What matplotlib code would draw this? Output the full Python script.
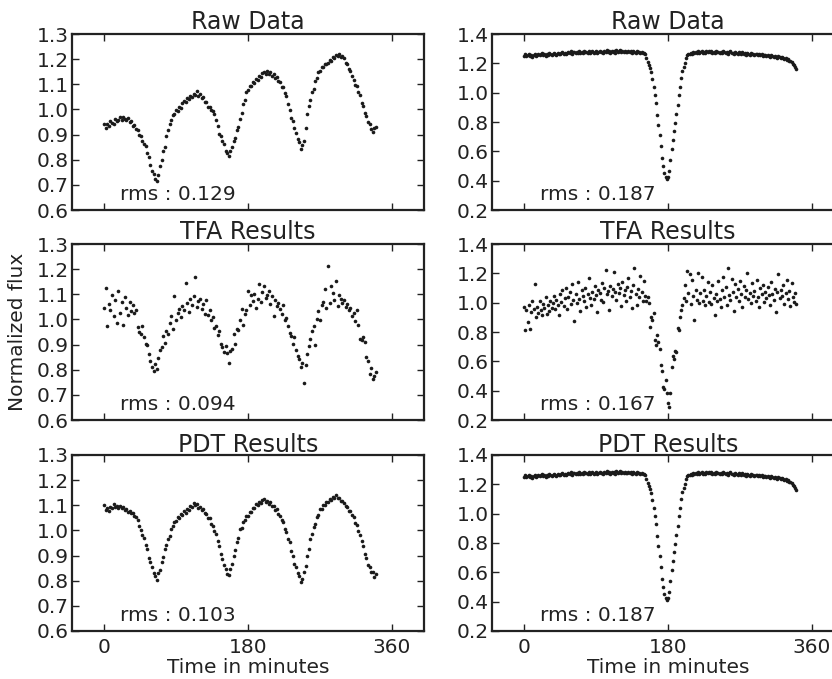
import numpy as np
import matplotlib
matplotlib.use("Agg")
from matplotlib import pyplot as plt
from matplotlib.ticker import FormatStrFormatter

# sample times in minutes
t_left = np.arange(0, 341, 2)
t_right = np.arange(0, 341, 1.5)

raw_left = [
    0.941, 0.928, 0.944, 0.935, 0.953, 0.946, 0.943, 0.961, 0.952, 0.958,
    0.968, 0.957, 0.970, 0.961, 0.958, 0.966, 0.949, 0.954, 0.936, 0.940,
    0.921, 0.918, 0.899, 0.894, 0.874, 0.862, 0.853, 0.826, 0.809, 0.779,
    0.757, 0.744, 0.722, 0.716, 0.741, 0.774, 0.797, 0.833, 0.851, 0.893,
    0.918, 0.944, 0.957, 0.979, 0.982, 0.996, 0.992, 1.008, 1.006, 1.024,
    1.034, 1.031, 1.046, 1.042, 1.055, 1.049, 1.063, 1.058, 1.072, 1.054,
    1.061, 1.045, 1.051, 1.030, 1.029, 1.010, 1.009, 0.996, 0.993, 0.981,
    0.957, 0.934, 0.902, 0.893, 0.874, 0.863, 0.836, 0.828, 0.814, 0.833,
    0.852, 0.874, 0.886, 0.918, 0.931, 0.963, 0.987, 1.023, 1.036, 1.068,
    1.076, 1.095, 1.092, 1.110, 1.104, 1.122, 1.116, 1.131, 1.129, 1.146,
    1.150, 1.139, 1.152, 1.141, 1.147, 1.134, 1.139, 1.124, 1.129, 1.112,
    1.109, 1.091, 1.089, 1.066, 1.054, 1.021, 0.998, 0.966, 0.953, 0.927,
    0.908, 0.881, 0.869, 0.844, 0.858, 0.875, 0.927, 0.982, 1.013, 1.037,
    1.068, 1.081, 1.113, 1.126, 1.149, 1.151, 1.169, 1.168, 1.182, 1.179,
    1.185, 1.197, 1.193, 1.207, 1.204, 1.216, 1.211, 1.219, 1.208, 1.212,
    1.204, 1.186, 1.181, 1.161, 1.154, 1.131, 1.118, 1.096, 1.094, 1.071,
    1.059, 1.026, 1.013, 0.986, 0.973, 0.951, 0.943, 0.921, 0.909, 0.926,
    0.932,
]

tfa_left = [
    1.046, 1.125, 0.972, 1.061, 1.038, 1.098, 1.012, 1.079, 0.985, 1.112,
    1.027, 1.069, 0.978, 1.088, 1.044, 1.019, 1.071, 1.032, 1.058, 1.025,
    1.037, 0.968, 0.951, 0.942, 0.975, 0.932, 0.903, 0.897, 0.862, 0.835,
    0.812, 0.793, 0.824, 0.803, 0.847, 0.878, 0.892, 0.934, 0.907, 0.955,
    0.944, 0.987, 1.013, 0.962, 1.093, 0.998, 1.026, 1.041, 1.008, 1.052,
    1.037, 1.145, 1.066, 1.028, 1.081, 1.058, 1.094, 1.167, 1.049, 1.072,
    1.083, 1.041, 1.062, 1.023, 1.076, 1.018, 1.036, 0.998, 1.011, 0.965,
    0.972, 0.938, 0.954, 0.904, 0.889, 0.871, 0.893, 0.866, 0.825, 0.874,
    0.884, 0.941, 0.902, 0.963, 0.958, 0.997, 1.043, 0.976, 1.021, 1.039,
    1.112, 1.058, 1.097, 1.074, 1.103, 1.045, 1.083, 1.141, 1.069, 1.108,
    1.132, 1.087, 1.099, 1.113, 1.062, 1.093, 1.014, 1.078, 1.052, 1.064,
    1.041, 1.023, 1.057, 0.998, 1.006, 0.972, 0.948, 0.934, 0.902, 0.931,
    0.878, 0.853, 0.841, 0.812, 0.827, 0.748, 0.818, 0.864, 0.893, 0.921,
    0.953, 0.974, 0.897, 1.002, 1.033, 0.996, 1.058, 1.071, 1.121, 1.047,
    1.214, 1.066, 1.133, 1.104, 1.078, 1.152, 1.053, 1.097, 1.082, 1.066,
    1.076, 1.049, 1.061, 1.037, 1.044, 1.013, 1.026, 0.992, 1.039, 0.978,
    0.924, 0.917, 0.929, 0.912, 0.852, 0.836, 0.784, 0.808, 0.762, 0.776,
    0.791,
]

pdt_left = [
    1.101, 1.082, 1.088, 1.076, 1.094, 1.089, 1.104, 1.093, 1.099, 1.091,
    1.098, 1.088, 1.094, 1.081, 1.086, 1.072, 1.079, 1.068, 1.071, 1.058,
    1.052, 1.043, 1.016, 1.003, 0.981, 0.968, 0.941, 0.925, 0.891, 0.873,
    0.853, 0.831, 0.818, 0.804, 0.829, 0.842, 0.873, 0.896, 0.928, 0.941,
    0.965, 0.977, 1.004, 1.016, 1.034, 1.037, 1.053, 1.049, 1.064, 1.063,
    1.076, 1.071, 1.085, 1.083, 1.099, 1.094, 1.109, 1.101, 1.106, 1.090,
    1.093, 1.081, 1.084, 1.068, 1.066, 1.051, 1.049, 1.026, 1.018, 0.996,
    0.984, 0.958, 0.938, 0.906, 0.888, 0.861, 0.848, 0.826, 0.822, 0.846,
    0.867, 0.898, 0.921, 0.954, 0.971, 1.004, 1.011, 1.034, 1.041, 1.058,
    1.059, 1.074, 1.073, 1.089, 1.091, 1.104, 1.101, 1.114, 1.108, 1.121,
    1.124, 1.113, 1.119, 1.107, 1.112, 1.098, 1.099, 1.083, 1.084, 1.066,
    1.059, 1.041, 1.034, 1.006, 0.993, 0.966, 0.953, 0.918, 0.899, 0.868,
    0.853, 0.829, 0.819, 0.794, 0.806, 0.834, 0.858, 0.899, 0.926, 0.966,
    0.987, 1.014, 1.026, 1.052, 1.061, 1.084, 1.086, 1.102, 1.101, 1.114,
    1.112, 1.124, 1.121, 1.134, 1.129, 1.139, 1.127, 1.129, 1.116, 1.117,
    1.111, 1.096, 1.095, 1.079, 1.077, 1.061, 1.054, 1.031, 1.023, 0.996,
    0.983, 0.956, 0.938, 0.906, 0.889, 0.861, 0.853, 0.836, 0.834, 0.815,
    0.828,
]

raw_right = [
    1.252, 1.261, 1.248, 1.257, 1.263, 1.250, 1.256, 1.246, 1.259, 1.262, 1.253, 1.258,
    1.264, 1.255, 1.261, 1.268, 1.257, 1.263, 1.252, 1.266, 1.259, 1.270, 1.261, 1.256,
    1.262, 1.271, 1.264, 1.258, 1.273, 1.267, 1.262, 1.269, 1.276, 1.263, 1.270, 1.265,
    1.268, 1.277, 1.270, 1.281, 1.266, 1.274, 1.279, 1.268, 1.276, 1.272, 1.283, 1.269,
    1.278, 1.270, 1.282, 1.274, 1.279, 1.268, 1.285, 1.273, 1.277, 1.281, 1.271, 1.279,
    1.283, 1.272, 1.278, 1.286, 1.274, 1.280, 1.270, 1.284, 1.277, 1.289, 1.275, 1.281,
    1.273, 1.286, 1.279, 1.283, 1.271, 1.288, 1.277, 1.282, 1.290, 1.276, 1.284, 1.279,
    1.285, 1.274, 1.280, 1.287, 1.276, 1.282, 1.270, 1.283, 1.278, 1.272, 1.281, 1.275,
    1.279, 1.271, 1.276, 1.268, 1.272, 1.262, 1.235, 1.212, 1.188, 1.166, 1.138, 1.092,
    1.041, 0.986, 0.928, 0.851, 0.782, 0.714, 0.633, 0.552, 0.497, 0.451, 0.424, 0.408,
    0.428, 0.466, 0.538, 0.617, 0.676, 0.741, 0.796, 0.853, 0.914, 0.981, 1.036, 1.098,
    1.146, 1.177, 1.201, 1.236, 1.254, 1.266, 1.262, 1.271, 1.265, 1.274, 1.268, 1.277,
    1.272, 1.281, 1.268, 1.276, 1.284, 1.273, 1.279, 1.270, 1.286, 1.275, 1.281, 1.277,
    1.283, 1.272, 1.278, 1.269, 1.285, 1.276, 1.280, 1.271, 1.277, 1.268, 1.282, 1.274,
    1.270, 1.279, 1.266, 1.275, 1.281, 1.268, 1.273, 1.264, 1.277, 1.270, 1.262, 1.274,
    1.268, 1.261, 1.275, 1.266, 1.270, 1.259, 1.272, 1.264, 1.257, 1.269, 1.263, 1.266,
    1.258, 1.267, 1.261, 1.254, 1.264, 1.257, 1.262, 1.251, 1.259, 1.255, 1.248, 1.258,
    1.252, 1.246, 1.255, 1.249, 1.243, 1.252, 1.245, 1.239, 1.248, 1.241, 1.236, 1.244,
    1.237, 1.229, 1.234, 1.223, 1.228, 1.215, 1.219, 1.206, 1.198, 1.189, 1.176, 1.162,
]

tfa_right = [
    0.972, 0.812, 0.951, 0.867, 0.984, 0.823, 0.936, 1.012, 0.955, 1.124, 0.904, 0.968,
    0.931, 1.013, 0.947, 0.918, 0.992, 0.961, 1.036, 0.925, 0.982, 0.944, 1.008, 0.963,
    0.997, 1.046, 0.956, 1.021, 0.983, 0.915, 1.062, 1.004, 1.087, 0.976, 1.033, 1.098,
    0.958, 1.041, 1.072, 0.989, 1.124, 1.016, 0.872, 1.058, 0.997, 1.139, 1.027, 0.944,
    1.083, 1.046, 1.012, 1.103, 0.968, 1.059, 1.171, 1.034, 0.986, 1.075, 1.024, 1.116,
    1.052, 0.937, 1.089, 1.067, 1.021, 1.133, 1.004, 1.097, 1.226, 1.058, 1.082, 0.953,
    1.114, 1.043, 1.091, 1.206, 1.072, 1.018, 1.127, 1.065, 1.098, 0.974, 1.142, 1.053,
    1.088, 1.012, 1.106, 1.169, 1.041, 1.077, 0.963, 1.123, 1.234, 1.058, 0.982, 1.094,
    1.037, 1.183, 1.072, 1.011, 1.148, 1.046, 1.012, 1.038, 0.996, 0.836, 0.905, 0.882,
    0.927, 0.744, 0.713, 0.781, 0.731, 0.684, 0.576, 0.531, 0.428, 0.412, 0.473, 0.383,
    0.316, 0.292, 0.387, 0.562, 0.637, 0.618, 0.672, 0.663, 0.824, 0.815, 0.904, 0.952,
    0.983, 1.031, 1.118, 1.009, 1.213, 1.067, 1.195, 0.994, 1.152, 1.043, 0.879, 1.086,
    1.021, 1.204, 0.997, 1.063, 1.178, 1.012, 1.089, 0.987, 1.046, 1.139, 1.003, 1.071,
    0.994, 1.118, 1.035, 0.918, 1.062, 1.009, 1.147, 1.027, 0.972, 1.083, 1.176, 1.041,
    1.104, 0.986, 1.238, 1.052, 1.017, 1.163, 1.074, 0.942, 1.129, 1.038, 1.096, 1.008,
    1.145, 1.061, 0.973, 1.112, 1.036, 1.087, 1.201, 1.024, 1.069, 0.995, 1.131, 1.048,
    1.079, 1.013, 1.154, 1.042, 0.968, 1.097, 1.058, 1.122, 1.006, 1.074, 1.035, 1.109,
    1.052, 0.987, 1.143, 1.061, 1.018, 1.094, 0.936, 1.076, 1.197, 1.029, 1.084, 1.046,
    1.118, 0.994, 1.063, 1.152, 1.027, 1.081, 0.978, 1.136, 1.042, 1.003, 1.067, 0.991,
]

# the PDT curve on the right is indistinguishable from the raw one
pdt_right = raw_right

titles = ["Raw Data", "TFA Results", "PDT Results"]
rms_left = ["0.129", "0.094", "0.103"]
rms_right = ["0.187", "0.167", "0.187"]
x_ticks = [0, 180, 360]


def style_axis(ax, yticks, show_x):
    ax.set_xlim(-40, 400)
    ax.set_xticks(x_ticks)
    ax.set_yticks(yticks)
    ax.set_ylim(yticks[0], yticks[-1])
    ax.yaxis.set_major_formatter(FormatStrFormatter("%.1f"))
    ax.tick_params(direction="in", length=5, width=1, top=True, right=True,
                   labelsize=14.5, colors="#222222")
    ax.tick_params(axis="y", pad=2.5)
    ax.tick_params(axis="x", pad=5)
    if not show_x:
        ax.tick_params(labelbottom=False)
    for s in ax.spines.values():
        s.set_linewidth(1.6)
        s.set_color("#222222")


def main():
    fig = plt.figure(figsize=(8.32, 6.79), dpi=100)
    w = 352 / 832
    h = 176 / 679
    bottoms = [1 - 210 / 679, 1 - 420 / 679, 1 - 631 / 679]
    left_y = [0.6, 0.7, 0.8, 0.9, 1.0, 1.1, 1.2, 1.3]
    right_y = [0.2, 0.4, 0.6, 0.8, 1.0, 1.2, 1.4]

    left_data = [raw_left, tfa_left, pdt_left]
    right_data = [raw_right, tfa_right, pdt_right]

    for i in range(3):
        for x0, t, y, rms, yt in [(72 / 832, t_left, left_data[i], rms_left[i], left_y),
                                  (492 / 832, t_right, right_data[i], rms_right[i], right_y)]:
            ax = fig.add_axes([x0, bottoms[i], w, h])
            ax.plot(t, y, linestyle="none", marker="o", ms=2.6, mew=0,
                    color="#1a1a1a")
            ax.set_title(titles[i], fontsize=17, pad=2.5, color="#222222")
            ax.text(0.136, 0.055, "rms : " + rms, transform=ax.transAxes,
                    fontsize=14.5, va="baseline", color="#222222")
            style_axis(ax, yt, i == 2)
            if i == 2:
                ax.set_xlabel("Time in minutes", fontsize=14.5, labelpad=0.5,
                              color="#222222")

    fig.text(18 / 832, 1 - 332 / 679, "Normalized flux", rotation=90,
             ha="center", va="center", fontsize=14.5, color="#222222")

    fig.savefig("out.png", dpi=100)


if __name__ == '__main__':
    main()
